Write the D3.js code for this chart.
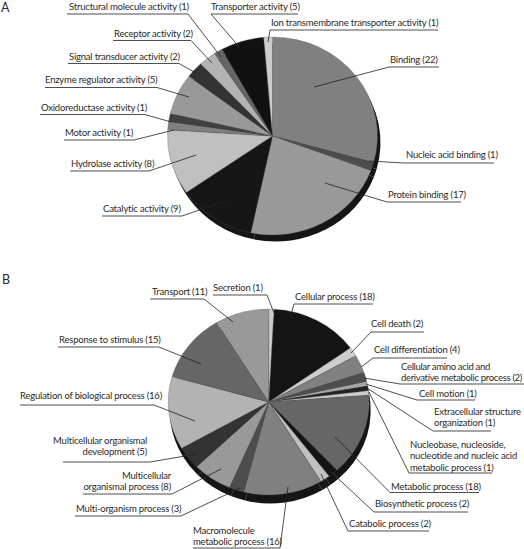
<!DOCTYPE html>
<html>
<head>
<meta charset="utf-8">
<script src="https://cdn.jsdelivr.net/npm/d3@7"></script>
<style>
  html, body { margin: 0; padding: 0; background: #fff; overflow: hidden; }
  text { font-family: Lato, sans-serif; fill: #2a2a2a; }
</style>
</head>
<body>
<div id="app"></div>
<script>
// Panel A - molecular function
const namesA = ['Binding (22)', 'Nucleic acid binding (1)', 'Protein binding (17)', 'Catalytic activity (9)',
  'Hydrolase activity (8)', 'Motor activity (1)', 'Oxidoreductase activity (1)', 'Enzyme regulator activity (5)',
  'Signal transducer activity (2)', 'Receptor activity (2)', 'Structural molecule activity (1)',
  'Transporter activity (5)', 'Ion transmembrane transporter activity (1)'];
const valuesA = [22, 1, 17, 9, 8, 1, 1, 5, 2, 2, 1, 5, 1];
const greysA = ['#808080', '#4d4d4d', '#999999', '#161616', '#c0c0c0', '#808080', '#404040', '#999999',
  '#333333', '#b3b3b3', '#666666', '#111111', '#cccccc'];

// Panel B - biological process
const namesB = ['Cellular process (18)', 'Cell death (2)', 'Cell differentiation (4)',
  'Cellular amino acid and|derivative metabolic process (2)', 'Cell motion (1)',
  'Extracellular structure|organization (1)',
  'Nucleobase, nucleoside,|nucleotide and nucleic acid|metabolic process (1)',
  'Metabolic process (18)', 'Biosynthetic process (2)', 'Catabolic process (2)',
  'Macromolecule|metabolic process (16)', 'Multi-organism process (3)',
  'Multicellular|organismal process (8)', 'Multicellular organismal|development (5)',
  'Regulation of biological process (16)', 'Response to stimulus (15)', 'Transport (11)', 'Secretion (1)'];
const valuesB = [18, 2, 4, 2, 1, 1, 1, 18, 2, 2, 16, 3, 8, 5, 16, 15, 11, 1];
const greysB = ['#141414', '#cccccc', '#808080', '#4d4d4d', '#a6a6a6', '#222222', '#cccccc', '#666666',
  '#141414', '#c0c0c0', '#808080', '#4d4d4d', '#999999', '#333333', '#b3b3b3', '#666666', '#999999', '#cccccc'];

// Label placement, same order as the names:
// text x, first baseline, underline from/to/y, tip of the leader, start side of the leader, text anchor
const labelsA = [
  { x: 390, y: 63, u: [389, 439, 67], tip: [314, 87], from: 'l' },
  { x: 406, y: 158, u: [404, 494, 163], tip: [369, 161], from: 'l' },
  { x: 388, y: 198, u: [387, 461, 202], tip: [325, 183], from: 'l' },
  { x: 103, y: 212, u: [102, 182, 216], tip: [228, 200], from: 'r' },
  { x: 71, y: 167, u: [70, 149, 171], tip: [196, 155], from: 'r' },
  { x: 65, y: 136, u: [64, 134, 140], tip: [174, 130], from: 'r' },
  { x: 41, y: 111, u: [40, 145, 114.5], tip: [171, 122], from: 'r' },
  { x: 45, y: 83, u: [45, 157, 87.5], tip: [189, 97], from: 'r' },
  { x: 69, y: 60, u: [68, 179, 63.5], tip: [196, 73], from: 'r' },
  { x: 114, y: 37, u: [113, 191, 40.5], tip: [212, 63], from: 'r' },
  { x: 69, y: 10, u: [67, 188, 14], tip: [221, 57], from: 'r' },
  { x: 211, y: 10, u: [211, 298, 14], tip: [240, 48], from: 'l' },
  { x: 271, y: 26, u: [270, 438, 30], tip: [268, 42], from: 'l' }
];
const labelsB = [
  { x: 295, y: 300, u: [294, 373, 304], tip: [290, 318], from: 'l' },
  { x: 371, y: 327, u: [371, 424, 332], tip: [351, 353], from: 'l' },
  { x: 374, y: 353, u: [373, 447, 358], tip: [361, 367], from: 'l' },
  { x: 401, y: 370, u: [400, 524, 384], tip: [364, 378], from: 'l', spacing: -0.32 },
  { x: 419, y: 397, u: [417, 475, 400], tip: [366, 384], from: 'l' },
  { x: 434, y: 415, u: [433, 491, 431], tip: [367, 388], from: 'l' },
  { x: 410, y: 448, u: [409, 492, 473], tip: [369, 392], from: 'l' },
  { x: 391, y: 490, u: [390, 479, 492.5], tip: [335, 437], from: 'l' },
  { x: 375, y: 507, u: [374, 468, 512], tip: [329, 470], from: 'l' },
  { x: 349, y: 527, u: [348, 429, 531], tip: [321, 474], from: 'l' },
  { x: 193, y: 534, u: [193, 280, 548], tip: [288, 487], from: 'r' },
  { x: 76, y: 512, u: [75, 181, 516], tip: [240, 488], from: 'r' },
  { x: 171, y: 479, u: [83, 172, 494], tip: [221, 469], from: 'r', anchor: 'end' },
  { x: 147, y: 444, u: [63, 150, 462], tip: [197, 454], from: 'r', anchor: 'end' },
  { x: 20, y: 399, u: [20, 154, 405], tip: [195, 421], from: 'r' },
  { x: 59, y: 343, u: [58, 159, 347], tip: [201, 364], from: 'r' },
  { x: 152, y: 295, u: [150, 204, 299], tip: [233, 322], from: 'r' },
  { x: 213, y: 291, u: [213, 267, 295], tip: [274, 313], from: 'r' }
];

const svg = d3.select('#app').append('svg')
  .attr('width', 524)
  .attr('height', 549)
  .style('display', 'block');

function drawPie(values, greys, names, labels, opts) {
  const pie = d3.pie().sort(null).startAngle(opts.start).endAngle(opts.start + 2 * Math.PI);
  const arc = d3.arc().innerRadius(0).outerRadius(100);
  const slices = pie(values);

  // dark side wall, the same pie pushed down a little
  svg.append('g')
    .attr('transform', `translate(${opts.cx + opts.dx},${opts.cy + opts.dy}) scale(${opts.rx / 100},${opts.ry / 100})`)
    .selectAll('path')
    .data(slices)
    .join('path')
    .attr('d', arc)
    .attr('fill', '#151515');

  svg.append('g')
    .attr('transform', `translate(${opts.cx},${opts.cy}) scale(${opts.rx / 100},${opts.ry / 100})`)
    .selectAll('path')
    .data(slices)
    .join('path')
    .attr('d', arc)
    .attr('fill', (d, i) => greys[i])
    .attr('stroke', '#555')
    .attr('stroke-width', 0.3);

  // leaders and underlines
  const line = d3.line();
  svg.append('g')
    .selectAll('path')
    .data(labels)
    .join('path')
    .attr('d', d => {
      const start = d.from === 'r' ? d.u[1] : d.u[0];
      const other = d.from === 'r' ? d.u[0] : d.u[1];
      return line([[other, d.u[2]], [start, d.u[2]], d.tip]);
    })
    .attr('fill', 'none')
    .attr('stroke', '#222')
    .attr('stroke-width', 0.8);

  // label text, "|" marks a line break
  const texts = svg.append('g')
    .selectAll('text')
    .data(labels)
    .join('text')
    .attr('x', d => d.x)
    .attr('y', d => d.y)
    .attr('text-anchor', d => d.anchor || 'start')
    .attr('font-size', 9.5)
    .attr('letter-spacing', d => d.spacing || -0.2);

  texts.each(function(d, i) {
    const parts = names[i].split('|');
    const step = d.step || 11.3;
    d3.select(this).selectAll('tspan')
      .data(parts)
      .join('tspan')
      .attr('x', d.x)
      .attr('y', (p, k) => d.y + k * step)
      .text(p => p);
  });

  svg.append('text')
    .attr('x', opts.tagX)
    .attr('y', opts.tagY)
    .attr('font-size', 12.5)
    .attr('fill', '#111')
    .text(opts.tag);
}

drawPie(valuesA, greysA, namesA, labelsA, {
  cx: 272.5, cy: 136, rx: 105, ry: 99, dx: 3, dy: 6.5, start: 0, tag: 'A', tagX: 1, tagY: 12
});
drawPie(valuesB, greysB, namesB, labelsB, {
  cx: 268.7, cy: 402, rx: 100.5, ry: 93, dx: 1.5, dy: 8.5, start: 3 * Math.PI / 180, tag: 'B', tagX: 2, tagY: 284
});
</script>
</body>
</html>
